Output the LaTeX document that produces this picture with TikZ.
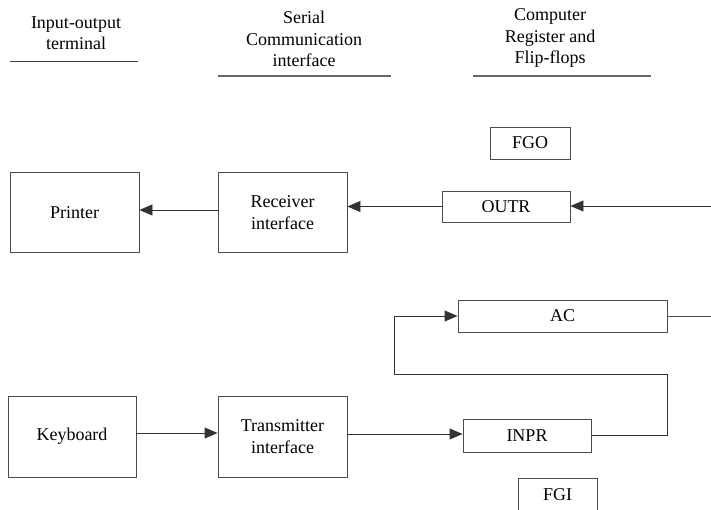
\documentclass[tikz,border=0pt]{standalone}
\usepackage{fontspec}
\setmainfont{Liberation Serif}
\usetikzlibrary{arrows.meta, positioning}

\begin{document}
\begin{tikzpicture}[x=1pt,y=-1pt,>={Triangle[length=13pt,width=11pt]},draw=black!70,line width=0.9pt]
    \tikzstyle{unit}=[draw=black!70,rectangle,inner sep=0pt,align=center,font=\fontsize{18}{21.5}\selectfont]
    \tikzstyle{big unit}=[unit,minimum width=129pt,minimum height=80pt]
    \tikzstyle{reg}=[unit,minimum height=32pt]
    \tikzstyle{head}=[align=center,font=\fontsize{18}{21.5}\selectfont]
    \tikzstyle{flow}=[->,draw=black!80]

    \useasboundingbox (0,0) rectangle (711,509);
    \clip (0,0) rectangle (711,509);

% column titles
	\node[head] (H1) at (76,33){Input-output\\terminal};
	\draw[black!75] (10,61) -- (138,61);
	\node[head] (H2) at (304,39){Serial\\Communication\\interface};
	\draw[black!60,line width=1.4pt] (218,76) -- (391,76);
	\node[head] (H3) at (550,38){Computer\\Register and\\Flip-flops};
	\draw[black!60,line width=1.4pt] (473,76) -- (651,76);

% output side
	\node[big unit] (P) at (74.5,212.5){Printer};
	\node[big unit] (Rcv) at (282.5,212.5){Receiver\\interface};
	\node[reg,minimum width=80pt] (FGO) at (530,143){FGO};
	\node[reg,minimum width=128pt,minimum height=31pt] (OUTR) at (506,206.5){OUTR};
	\coordinate (Oin) at (711,206);

	\draw[flow] (Oin) -- (OUTR.east |- Oin);
	\draw[flow] (OUTR.west) -- (Rcv.east |- OUTR.west);
	\draw[flow] (Rcv.west |- 0,210) -- (P.east |- 0,210);

% input side
	\node[big unit,minimum width=128pt,minimum height=81pt] (K) at (72,436.5){Keyboard};
	\node[big unit,minimum height=81pt] (Tr) at (282.5,436.5){Transmitter\\interface};
	\node[reg,minimum width=209pt] (AC) at (562.5,316){AC};
	\node[reg,minimum width=128pt,minimum height=33pt] (INPR) at (527,435.5){INPR};
	\node[reg,minimum width=79pt,minimum height=34pt] (FGI) at (557.5,495){FGI};
	\coordinate (Aout) at (711,316);
	\coordinate (L1) at (667,374);
	\coordinate (L2) at (394,374);

	\draw[flow] (K.east |- 0,433) -- (Tr.west |- 0,433);
	\draw[flow] (Tr.east |- 0,434) -- (INPR.west |- 0,434);
	\draw[flow] (INPR.east) -| (L1) -- (L2) |- (AC.west);
	\draw (AC.east) -- (Aout);

\end{tikzpicture}
\end{document}
